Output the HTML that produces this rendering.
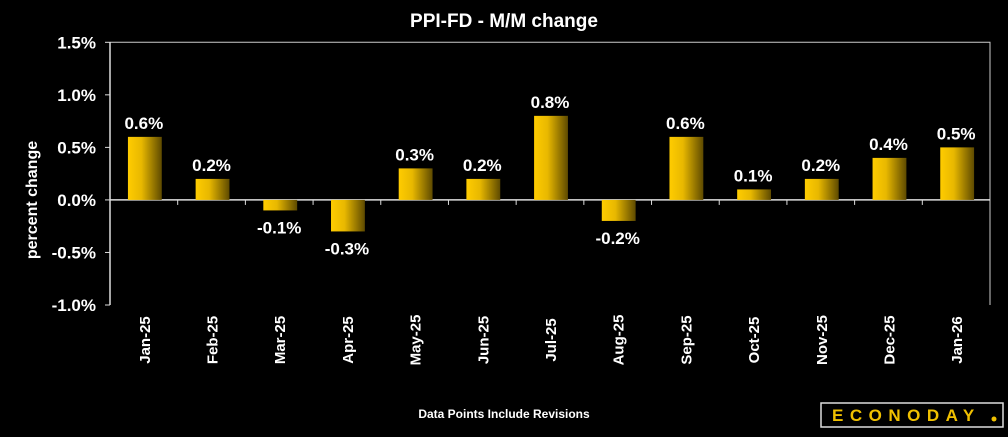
<!DOCTYPE html>
<html><head><meta charset="utf-8"><style>
body{margin:0;background:#000;width:1008px;height:432px;overflow:hidden}
svg text{font-family:"Liberation Sans",sans-serif;font-weight:bold;fill:#fff}
</style></head><body>
<svg id="c" width="1008" height="432">
<defs><linearGradient id="g" x1="0" x2="1" y1="0" y2="0"><stop offset="0" stop-color="#ffcc00"/><stop offset="0.4" stop-color="#e8b800"/><stop offset="1" stop-color="#5e4a00"/></linearGradient></defs>
<text x="504" y="27" text-anchor="middle" font-size="19">PPI-FD - M/M change</text>
<text transform="translate(37,200) rotate(-90)" text-anchor="middle" font-size="16">percent change</text>
<text x="504" y="418" text-anchor="middle" font-size="12">Data Points Include Revisions</text>
<g>
<rect x="821" y="403" width="182" height="24" fill="#000" stroke="#ddd" stroke-width="1.5"/>
<text x="832" y="421" font-size="17" letter-spacing="6.5" style="fill:#f0c000">ECONODAY</text>
<circle cx="994" cy="419" r="2.5" fill="#f0c000"/>
</g>
<g id="plot"></g>
</svg>
<script>
const categories=["Jan-25","Feb-25","Mar-25","Apr-25","May-25","Jun-25","Jul-25","Aug-25","Sep-25","Oct-25","Nov-25","Dec-25","Jan-26"];
const values=[0.6,0.2,-0.1,-0.3,0.3,0.2,0.8,-0.2,0.6,0.1,0.2,0.4,0.5];
const yTicks=[1.5,1.0,0.5,0.0,-0.5,-1.0];
const X0=110,X1=990,Y0=42.3,Y1=305,YMAX=1.5,YMIN=-1.0;
const y=v=>Y0+(YMAX-v)/(YMAX-YMIN)*(Y1-Y0);
const cw=(X1-X0)/categories.length;
const x=i=>X0+i*cw;
const ns="http://www.w3.org/2000/svg",p=document.getElementById('plot');
function mk(t,a){const e=document.createElementNS(ns,t);for(const k in a)e.setAttribute(k,a[k]);p.appendChild(e);return e;}
let f=mk('path',{d:`M${X0},${Y0}H${X1}V${Y1}`,stroke:'#ccc','stroke-width':1,fill:'none'});


let ax=mk('line',{x1:X0,x2:X0,y1:Y0,y2:Y1,stroke:'#ddd','stroke-width':1.5});


yTicks.forEach(v=>{
 const tk=mk('line',{x1:X0-5,x2:X0,y1:y(v),y2:y(v),stroke:'#ddd'});
 
 
 const t=mk('text',{x:X0-14,y:y(v)+6,'text-anchor':'end','font-size':17});
 t.textContent=v.toFixed(1)+'%';
 
 
});
let z=mk('line',{x1:X0,x2:X1,y1:y(0),y2:y(0),stroke:'#ddd','stroke-width':1.5});


categories.forEach((c,i)=>{
 if(i>0){const tk=mk('line',{x1:x(i),x2:x(i),y1:y(0),y2:y(0)+5,stroke:'#ddd'});
 
 }
 const v=values[i],bx=x(i)+cw*0.265,bw=cw*0.5;
 const top=Math.min(y(v),y(0)),h=Math.abs(y(v)-y(0));
 const r=mk('rect',{x:bx,y:top,width:bw,height:h,fill:'url(#g)'});
 
 
 const lt=mk('text',{x:x(i)+cw/2,y:v>=0?y(v)-8:y(v)+23,'text-anchor':'middle','font-size':17});
 lt.textContent=v.toFixed(1)+'%';
 
 
 const cx=x(i)+cw/2;
 const ct=mk('text',{transform:`translate(${cx+6},340) rotate(-90)`,'text-anchor':'middle','font-size':15});
 ct.textContent=c;
 
 
});
</script>
</body></html>
